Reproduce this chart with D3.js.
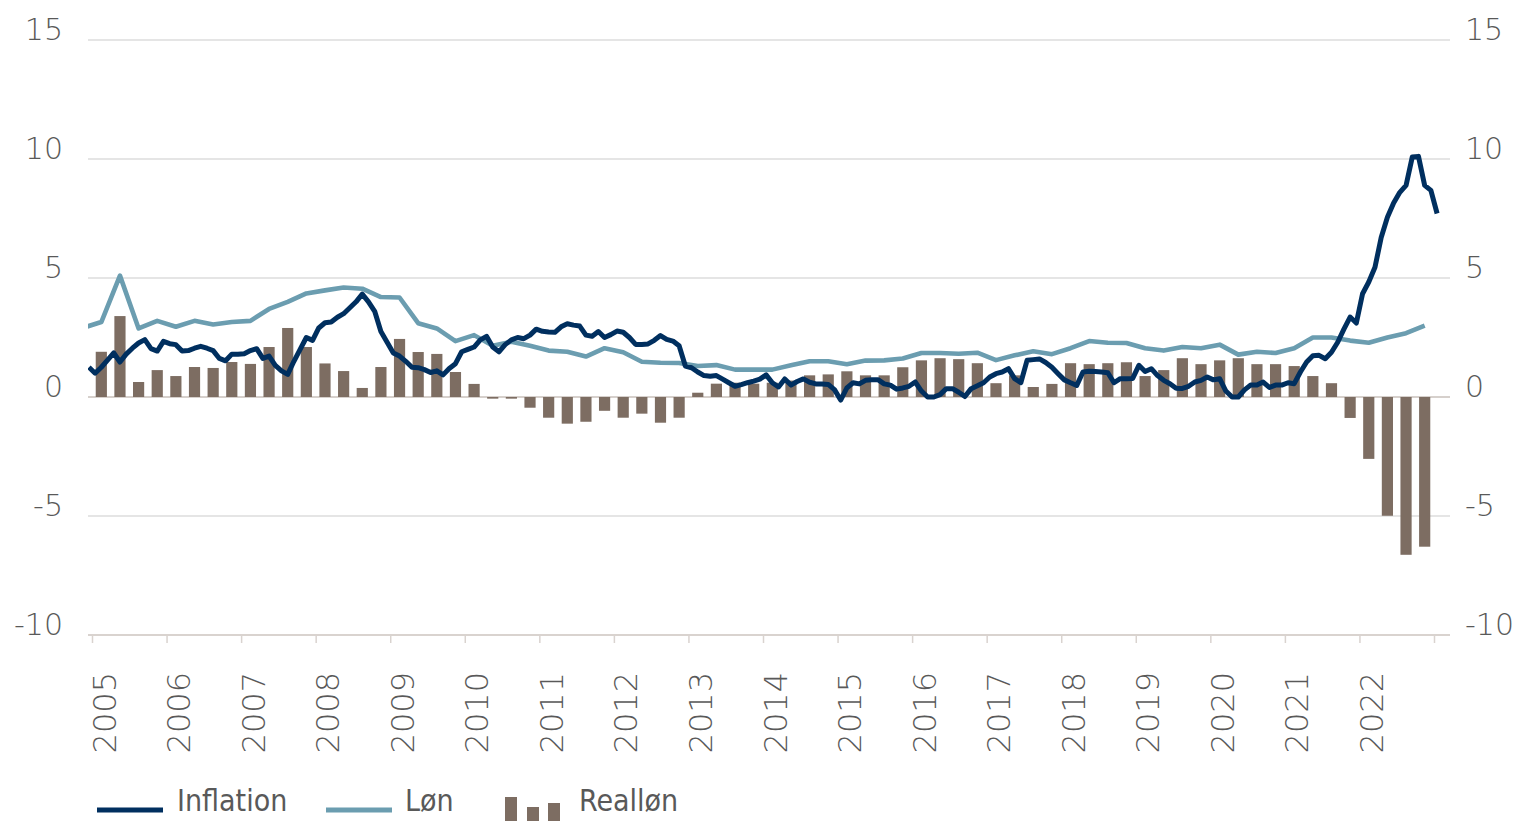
<!DOCTYPE html>
<html><head><meta charset="utf-8">
<script src="https://cdn.jsdelivr.net/npm/d3@7"></script>
<style>body{margin:0;background:#fff}svg{display:block}</style>
</head><body>
<svg id="chart" width="1524" height="821"></svg>
<script>
// ---------- data ----------
const yTicks = [-10, -5, 0, 5, 10, 15];
const yearLabels = ["2005","2006","2007","2008","2009","2010","2011","2012","2013","2014","2015","2016","2017","2018","2019","2020","2021","2022"];
const seriesNames = ["Inflation", "Løn", "Realløn"];

// Inflation, monthly, first value = December 2004
const inflationStart = {year: 2004, month: 12};
const inflation = [
 1.25,
 1.0,1.25,1.55,1.85,1.47,1.8,2.05,2.27,2.41,2.03,1.93,2.34,
 2.24,2.2,1.93,1.95,2.05,2.13,2.05,1.95,1.62,1.52,1.8,1.8,
 1.82,1.95,2.03,1.62,1.72,1.33,1.1,0.95,1.5,2.0,2.5,2.38,
 2.9,3.12,3.15,3.35,3.5,3.75,4.0,4.32,4.0,3.6,2.75,2.3,
 1.85,1.72,1.5,1.25,1.23,1.15,1.03,1.1,0.93,1.2,1.4,1.9,
 2.0,2.1,2.4,2.55,2.1,1.9,2.2,2.4,2.5,2.45,2.6,2.85,
 2.76,2.73,2.72,2.95,3.08,3.02,2.98,2.6,2.55,2.75,2.5,2.62,
 2.77,2.72,2.5,2.21,2.21,2.23,2.38,2.58,2.42,2.35,2.15,1.3,
 1.23,1.05,0.9,0.87,0.9,0.75,0.6,0.45,0.52,0.6,0.67,0.75,
 0.93,0.6,0.42,0.76,0.5,0.65,0.76,0.62,0.55,0.55,0.53,0.31,
 -0.13,0.38,0.6,0.55,0.7,0.72,0.73,0.55,0.5,0.33,0.38,0.45,
 0.63,0.25,0.0,0.0,0.1,0.35,0.35,0.2,0.02,0.35,0.47,0.6,
 0.84,0.98,1.05,1.19,0.77,0.6,1.54,1.57,1.6,1.45,1.25,0.98,
 0.72,0.6,0.49,1.05,1.08,1.07,1.05,1.02,0.6,0.77,0.77,0.78,
 1.33,1.07,1.19,0.9,0.7,0.56,0.37,0.36,0.45,0.63,0.7,0.84,
 0.72,0.77,0.25,0.0,0.0,0.3,0.5,0.5,0.63,0.4,0.5,0.5,
 0.6,0.56,1.05,1.47,1.73,1.75,1.61,1.88,2.3,2.85,3.36,3.11,
 4.34,4.83,5.45,6.7,7.55,8.15,8.6,8.89,10.08,10.11,8.89,8.68,
 7.71
];

// Løn, quarterly, first value = 2004 Q4
const lonStart = {year: 2004, quarter: 4};
const lon = [
 2.9,
 3.15,5.1,2.88,3.2, 2.95,3.2,3.05,3.15, 3.2,3.7,4.0,4.35,
 4.48,4.6,4.55,4.2, 4.18,3.1,2.88,2.35, 2.6,2.15,2.32,2.15,
 1.95,1.9,1.7,2.05, 1.88,1.48,1.44,1.43, 1.3,1.34,1.15,1.15,
 1.15,1.33,1.5,1.5, 1.38,1.53,1.54,1.62, 1.85,1.85,1.82,1.86,
 1.55,1.75,1.92,1.8, 2.05,2.35,2.28,2.27, 2.05,1.95,2.1,2.05,
 2.2,1.78,1.9,1.85, 2.05,2.5,2.5,2.37, 2.28,2.5,2.68,3.0
];

// Realløn, quarterly, first value = 2005 Q1
const reallonStart = {year: 2005, quarter: 1};
const reallon = [
 1.9,3.4,0.63,1.13, 0.88,1.26,1.22,1.47, 1.39,2.1,2.9,2.1,
 1.41,1.09,0.38,1.26, 2.44,1.89,1.81,1.05, 0.55,-0.07,-0.07,-0.45,
 -0.87,-1.12,-1.04,-0.58, -0.87,-0.7,-1.08,-0.87, 0.18,0.56,0.6,0.56,
 0.6,0.69,0.91,0.95, 1.08,0.91,0.91,1.25, 1.54,1.63,1.59,1.42,
 0.58,0.91,0.42,0.55, 1.42,1.38,1.42,1.46, 0.88,1.13,1.63,1.38,
 1.54,1.63,1.38,1.38, 1.3,0.88,0.58,-0.88, -2.6,-4.99,-6.63,-6.29
];

// ---------- helpers ----------
const monthTime = (start, i) => start.year + (start.month - 1 + i + 0.5) / 12;
const quarterTime = (start, i) => start.year + ((start.quarter - 1 + i) * 3 + 1.5) / 12;

const inflationData = inflation.map((v, i) => ({t: monthTime(inflationStart, i), v}));
const lonData = lon.map((v, i) => ({t: quarterTime(lonStart, i), v}));
const reallonData = reallon.map((v, i) => ({t: quarterTime(reallonStart, i), v}));

// ---------- layout ----------
const W = 1524, H = 821;
const plotLeft = 88, plotRight = 1450;
const svg = d3.select("#chart");

const x = d3.scaleLinear().domain([2005, 2023]).range([92, 1434]);
const y = d3.scaleLinear().domain([-10, 15]).range([635, 40]);

const COL_INF = "#002f5f", COL_LON = "#6b9db0", COL_BAR = "#7d6d62";
const TXT = "#595959";
const FONT = "'DejaVu Sans', 'Open Sans', sans-serif";
const FONT_C = "'DejaVu Sans Condensed', 'DejaVu Sans', sans-serif";

svg.append("defs").append("clipPath").attr("id", "plotclip")
  .append("rect").attr("x", plotLeft).attr("y", 0).attr("width", plotRight - plotLeft).attr("height", H);

// gridlines
svg.append("g").selectAll("line").data(yTicks.filter(d => d > -10)).join("line")
  .attr("x1", plotLeft).attr("x2", plotRight)
  .attr("y1", d => y(d)).attr("y2", d => y(d))
  .attr("stroke", d => d === 0 ? "#d6d0cc" : "#dcdcdc")
  .attr("stroke-width", d => d === 0 ? 2 : 1.3);

// y axes (labels only)
const fmt = d => String(d);
const yl = svg.append("g").attr("transform", `translate(${63},0)`)
  .call(d3.axisLeft(y).tickValues(yTicks).tickSize(0).tickPadding(0).tickFormat(fmt));
const yr = svg.append("g").attr("transform", `translate(${1465},0)`)
  .call(d3.axisRight(y).tickValues(yTicks).tickSize(0).tickPadding(0).tickFormat(fmt));
[yl, yr].forEach(g => {
  g.select(".domain").remove();
  g.selectAll("text").attr("font-family", FONT).attr("font-size", 30).attr("font-weight", 300)
    .attr("fill", TXT).attr("dy", "-0.02em");
});

// x axis
const xa = svg.append("g").attr("transform", `translate(0,${y(-10)})`)
  .call(d3.axisBottom(x).tickValues(d3.range(2005, 2024)).tickSize(8).tickFormat(d => yearLabels[d - 2005] || ""));
xa.select(".domain").attr("d", `M${plotLeft},0H${plotRight}`).attr("stroke", "#d9d3cf").attr("stroke-width", 2);
xa.selectAll(".tick line").attr("stroke", "#d9d3cf").attr("stroke-width", 1.5);
xa.selectAll(".tick text")
  .attr("font-family", FONT).attr("font-size", 32).attr("font-weight", 300).attr("fill", TXT)
  .attr("text-anchor", "end").attr("dy", null)
  .attr("transform", "translate(12,37) rotate(-90)")
  .attr("x", 0).attr("y", 0).attr("dominant-baseline", "central");

// bars
const barW = (x(2005.25) - x(2005)) * 0.6;
const plot = svg.append("g").attr("clip-path", "url(#plotclip)");
plot.append("g").selectAll("rect").data(reallonData).join("rect")
  .attr("x", d => x(d.t) - barW / 2).attr("width", barW)
  .attr("y", d => y(Math.max(0, d.v))).attr("height", d => Math.abs(y(d.v) - y(0)))
  .attr("fill", COL_BAR);

// lines
const line = d3.line().x(d => x(d.t)).y(d => y(d.v));
plot.append("path").datum(lonData).attr("d", line)
  .attr("fill", "none").attr("stroke", COL_LON).attr("stroke-width", 4.6).attr("stroke-linejoin", "round");
plot.append("path").datum(inflationData).attr("d", line)
  .attr("fill", "none").attr("stroke", COL_INF).attr("stroke-width", 5).attr("stroke-linejoin", "round");

// legend
const lg = svg.append("g");
lg.append("line").attr("x1", 97).attr("x2", 163).attr("y1", 810).attr("y2", 810).attr("stroke", COL_INF).attr("stroke-width", 5);
lg.append("text").attr("x", 177).attr("y", 811).text(seriesNames[0]);
lg.append("line").attr("x1", 326).attr("x2", 392).attr("y1", 810).attr("y2", 810).attr("stroke", COL_LON).attr("stroke-width", 5);
lg.append("text").attr("x", 405).attr("y", 811).text(seriesNames[1]);
const iconBars = [{x: 505, h: 24}, {x: 527, h: 14}, {x: 548, h: 18}];
lg.append("g").selectAll("rect").data(iconBars).join("rect")
  .attr("x", d => d.x).attr("y", d => 821 - d.h).attr("width", 12).attr("height", d => d.h).attr("fill", COL_BAR);
lg.append("text").attr("x", 579).attr("y", 811).text(seriesNames[2]);
lg.selectAll("text").attr("font-family", FONT_C).attr("font-stretch", "condensed")
  .attr("font-size", 30).attr("font-weight", 300).attr("fill", TXT);
</script>
</body></html>
